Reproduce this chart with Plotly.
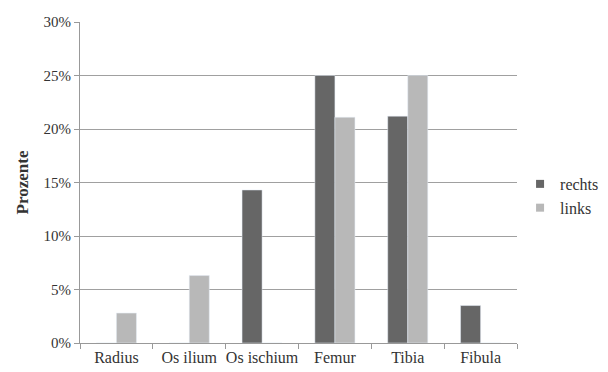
import plotly.graph_objects as go

categories = ["Radius", "Os ilium", "Os ischium", "Femur", "Tibia", "Fibula"]
rechts = [0, 0, 0.143, 0.25, 0.212, 0.035]
links = [0.028, 0.063, 0, 0.211, 0.25, 0]
tick_vals = [0, 0.05, 0.10, 0.15, 0.20, 0.25, 0.30]
tick_text = ["0%", "5%", "10%", "15%", "20%", "25%", "30%"]

font = "Liberation Serif, Times New Roman, serif"
c_rechts = "#666666"
c_links = "#b8b8b8"

fig = go.Figure()
fig.add_trace(go.Bar(name="rechts", x=categories, y=rechts, marker_color=c_rechts, showlegend=False))
fig.add_trace(go.Bar(name="links", x=categories, y=links, marker_color=c_links, showlegend=False))
# legend entries
fig.add_trace(go.Scatter(name="rechts", x=[None], y=[None], mode="markers",
                         marker=dict(symbol="square", size=8, color=c_rechts)))
fig.add_trace(go.Scatter(name="links", x=[None], y=[None], mode="markers",
                         marker=dict(symbol="square", size=8, color=c_links)))

fig.update_layout(
    width=608, height=372,
    margin=dict(l=72, r=99, t=14, b=37, autoexpand=False),
    paper_bgcolor="white", plot_bgcolor="white",
    barmode="group", bargap=0.45, bargroupgap=0.0,
    font=dict(family=font, size=15, color="#333"),
    legend=dict(x=1.007, y=0.458, yanchor="middle", xanchor="left",
                font=dict(size=16, color="#333"), itemwidth=30,
                tracegroupgap=0, bgcolor="rgba(0,0,0,0)"),
    xaxis=dict(showline=True, linecolor="#999", linewidth=1,
               ticks="outside", tickson="boundaries", tickcolor="#999", ticklen=5,
               tickangle=0, automargin=False,
               tickfont=dict(size=16, color="#333")),
    yaxis=dict(range=[0, 0.30], tickvals=tick_vals, ticktext=tick_text,
               showline=True, linecolor="#999", linewidth=1,
               gridcolor="#a0a0a0", gridwidth=1, automargin=False,
               ticks="outside", tickcolor="#999", ticklen=5,
               tickfont=dict(size=15, color="#333"),
               title=dict(text="<b>Prozente</b>", font=dict(size=17, color="#333"), standoff=10)),
)

fig.write_html("out.html")
